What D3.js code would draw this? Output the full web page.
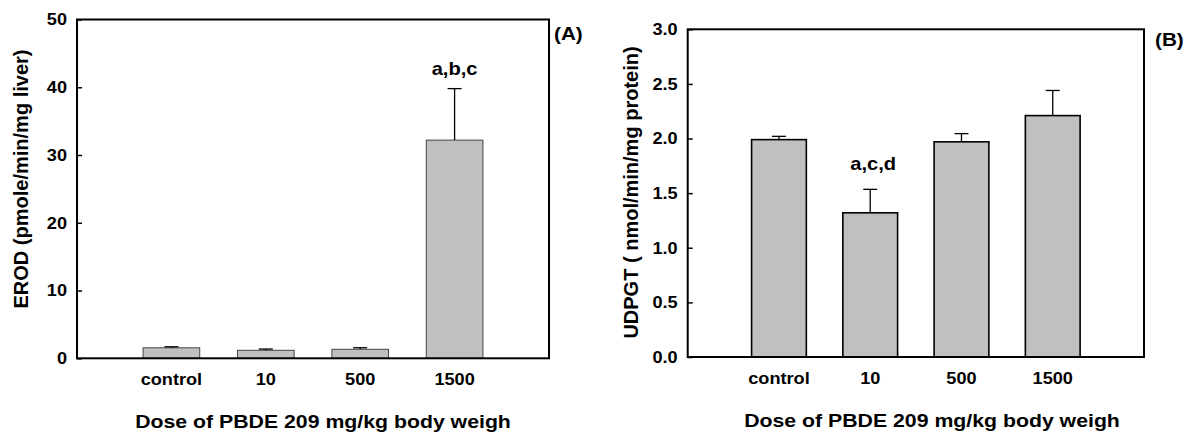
<!DOCTYPE html>
<html>
<head>
<meta charset="utf-8">
<script src="https://cdn.jsdelivr.net/npm/d3@7"></script>
<style>
  body { margin: 0; background: #fff; }
  text { font-family: "Liberation Sans", Arial, sans-serif; font-weight: bold; fill: #000; }
</style>
</head>
<body>
<div id="chart"></div>
<script>
// datos
const doses = ["control", "10", "500", "1500"];

const erodMean = [1.55, 1.18, 1.33, 32.2];
const erodErr = [0.15, 0.19, 0.23, 7.6];
const erodTicks = [0, 10, 20, 30, 40, 50];
const erodNotes = ["", "", "", "a,b,c"];

const udpgtMean = [1.99, 1.32, 1.97, 2.21];
const udpgtErr = [0.03, 0.215, 0.075, 0.23];
const udpgtTicks = [0, 0.5, 1.0, 1.5, 2.0, 2.5, 3.0];
const udpgtNotes = ["", "a,c,d", "", ""];

const svg = d3.select("#chart").append("svg")
    .attr("width", 1188)
    .attr("height", 435);

const SX = 1.1;

function panel(p) {
    const x = d3.scaleLinear().domain([0, doses.length + 1]).range([p.left, p.right]);
    const y = d3.scaleLinear().domain([0, p.max]).range([p.bottom, p.top]);
    const bw = (x(1) - x(0)) * 0.6;
    const g = svg.append("g");

    // barras
    g.selectAll("rect.bar")
        .data(p.mean)
        .join("rect")
        .attr("class", "bar")
        .attr("x", (d, i) => x(i + 1) - bw / 2)
        .attr("y", d => y(d))
        .attr("width", bw)
        .attr("height", d => y(0) - y(d))
        .attr("fill", "#c0c0c0")
        .attr("stroke", p.barStroke)
        .attr("stroke-width", p.barStrokeW);

    // barras de error
    g.selectAll("line.err")
        .data(p.mean)
        .join("line")
        .attr("class", "err")
        .attr("x1", (d, i) => x(i + 1))
        .attr("x2", (d, i) => x(i + 1))
        .attr("y1", d => y(d))
        .attr("y2", (d, i) => y(d + p.err[i]))
        .attr("stroke", "#000")
        .attr("stroke-width", 1.3);

    g.selectAll("line.cap")
        .data(p.mean)
        .join("line")
        .attr("class", "cap")
        .attr("x1", (d, i) => x(i + 1) - 7)
        .attr("x2", (d, i) => x(i + 1) + 7)
        .attr("y1", (d, i) => y(d + p.err[i]))
        .attr("y2", (d, i) => y(d + p.err[i]))
        .attr("stroke", "#000")
        .attr("stroke-width", 1.3);

    // eje y con ticks hacia adentro
    const ax = g.append("g")
        .attr("transform", `translate(${p.left},0)`)
        .call(d3.axisLeft(y).tickValues(p.ticks).tickSize(-5).tickPadding(10).tickFormat(p.fmt));
    ax.select(".domain").remove();
    ax.selectAll(".tick line").attr("stroke", "#000").attr("stroke-width", 1.5);
    ax.selectAll(".tick text")
        .attr("font-size", 16.5)
        .attr("x", -10 / SX)
        .attr("transform", `scale(${SX},1)`);

    // marco
    g.append("rect")
        .attr("x", p.left)
        .attr("y", p.top)
        .attr("width", p.right - p.left)
        .attr("height", p.bottom - p.top)
        .attr("fill", "none")
        .attr("stroke", "#000")
        .attr("stroke-width", 2);

    // etiquetas de dosis
    g.selectAll("text.dose")
        .data(doses)
        .join("text")
        .attr("class", "dose")
        .attr("transform", (d, i) => `translate(${x(i + 1)},${p.bottom + 27}) scale(${SX},1)`)
        .attr("text-anchor", "middle")
        .attr("font-size", 16.5)
        .text(d => d);

    // letras de significancia
    g.selectAll("text.note")
        .data(p.notes)
        .join("text")
        .attr("class", "note")
        .attr("transform", (d, i) => `translate(${x(i + 1) + p.noteDx},${y(p.mean[i] + p.err[i]) - p.noteGap}) scale(1.15,1)`)
        .attr("text-anchor", "middle")
        .attr("font-size", 17.5)
        .text(d => d);

    g.append("text")
        .attr("transform", `translate(${p.ylabX},${p.ylabY}) rotate(-90)`)
        .attr("text-anchor", "middle")
        .attr("font-size", 20)
        .text(p.ylabel);

    g.append("text")
        .attr("transform", `translate(${p.xlabX},${p.xlabY}) scale(1.12,1)`)
        .attr("text-anchor", "middle")
        .attr("font-size", 19)
        .text("Dose of PBDE 209 mg/kg body weigh");

    g.append("text")
        .attr("transform", `translate(${p.tagX},${p.tagY}) scale(1.12,1)`)
        .attr("font-size", 18.5)
        .text(p.tag);
}

panel({
    left: 77, right: 549, top: 19.5, bottom: 358.3, max: 50,
    mean: erodMean, err: erodErr, ticks: erodTicks, notes: erodNotes,
    fmt: d3.format("d"), barStroke: "#444", barStrokeW: 1,
    noteDx: 0, noteGap: 14,
    ylabel: "EROD (pmole/min/mg liver)", ylabX: 27.5, ylabY: 179,
    xlabX: 323, xlabY: 428, tagX: 554, tagY: 40, tag: "(A)"
});

panel({
    left: 687.7, right: 1144, top: 29.3, bottom: 357, max: 3,
    mean: udpgtMean, err: udpgtErr, ticks: udpgtTicks, notes: udpgtNotes,
    fmt: d3.format(".1f"), barStroke: "#000", barStrokeW: 1.6,
    noteDx: 3, noteGap: 19,
    ylabel: "UDPGT ( nmol/min/mg protein)", ylabX: 637.5, ylabY: 192.5,
    xlabX: 932, xlabY: 427, tagX: 1155, tagY: 46, tag: "(B)"
});
</script>
</body>
</html>
